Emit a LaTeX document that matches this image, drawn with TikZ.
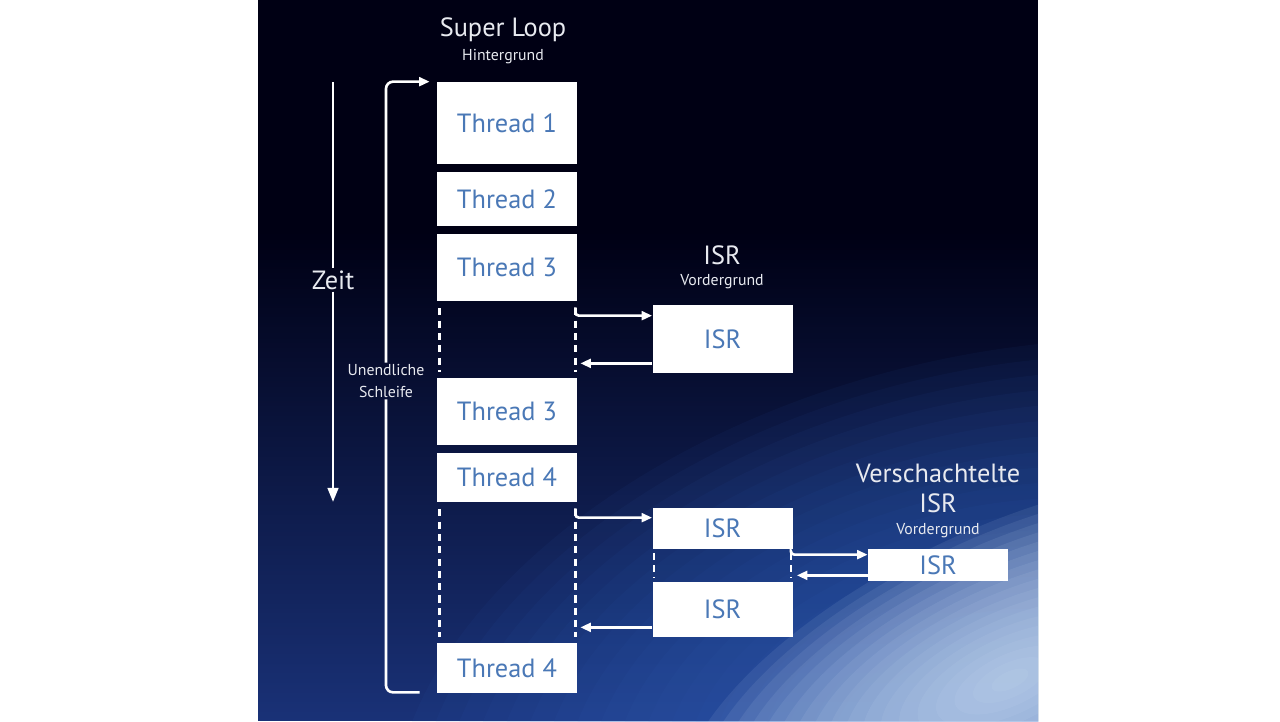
\documentclass[tikz,border=0pt]{standalone}
\usepackage{fontspec}
\setmainfont{PT Sans}
\usetikzlibrary{arrows.meta,fadings}
\definecolor{threadblue}{HTML}{4A78B6}
\definecolor{lighttext}{HTML}{E8EAF0}
\definecolor{navy}{HTML}{1A3278}
\definecolor{midblue}{HTML}{3466C2}
\definecolor{glow}{HTML}{D2E3F6}
\tikzfading[name=fadeup, top color=transparent!100, bottom color=transparent!0]
\tikzset{
  threadbox/.style={rectangle,fill=white,inner sep=0pt,minimum width=2.8cm,text=threadblue,font=\fontsize{15}{15}\selectfont},
  headline/.style={text=lighttext,font=\fontsize{15}{17}\selectfont,align=center,inner sep=1pt},
  subline/.style={text=lighttext,font=\fontsize{9}{12}\selectfont,align=center,inner sep=1pt},
  wire/.style={draw=white,line width=1.5pt},
  flow/.style={wire,-{Triangle[length=6pt,width=5pt]}},
  pause/.style={draw=white,line width=1.5pt,dash pattern=on 4pt off 3pt,shorten <=4pt,shorten >=3pt}
}
\begin{document}
\begin{tikzpicture}[x=0.02cm,y=-0.02cm]
\useasboundingbox[fill=white] (0,0) rectangle (1280,721);
% background
\fill[black!92!blue] (258,0) rectangle (1038,721);
\fill[navy,path fading=fadeup] (258,230) rectangle (1038,721);
\begin{scope}
\clip (258,0) rectangle (1038,721);
\foreach \r in {1,...,24}
  \fill[midblue,opacity=0.06,rotate around={15:(980,720)}] (980,720) ellipse ({\r*0.5cm} and {\r*0.3cm});
\foreach \r in {1,...,18}
  \fill[glow,opacity=0.09,rotate around={25:(1010,680)}] (1010,680) ellipse ({\r*0.4cm} and {\r*0.17cm});
\end{scope}
% super loop
\node[headline] (supertitle) at (503,30) {Super Loop};
\node[subline] (superbg) at (503,57) {Hintergrund};
\node[threadbox,minimum height=1.64cm] (t1) at (507,123) {Thread 1};
\node[threadbox,minimum height=1.08cm] (t2) at (507,199) {Thread 2};
\node[threadbox,minimum height=1.34cm] (t3a) at (507,267.5) {Thread 3};
\node[threadbox,minimum height=1.34cm] (t3b) at (507,411.5) {Thread 3};
\node[threadbox,minimum height=0.98cm] (t4a) at (507,477.5) {Thread 4};
\node[threadbox,minimum height=1.0cm] (t4b) at (507,668) {Thread 4};
% isr
\node[headline] (isrtitle) at (722,255) {ISR};
\node[subline] (isrfg) at (722,282) {Vordergrund};
\node[threadbox,minimum height=1.36cm] (isra) at (722.5,339) {ISR};
\node[threadbox,minimum height=0.82cm] (isrb) at (722.5,528.5) {ISR};
\node[threadbox,minimum height=1.1cm] (isrc) at (722.5,609.5) {ISR};
\node[headline] (nesttitle) at (938,488) {Verschachtelte\\ISR};
\node[subline] (nestfg) at (938,531) {Vordergrund};
\node[threadbox,minimum height=0.64cm] (isrn) at (938,565) {ISR};
% zeit
\node[headline] (zeit) at (333,280) {Zeit};
\coordinate (ztop) at (333,82);
\coordinate (zbot) at (333,502);
\draw[wire] (ztop) -- (zeit);
\draw[wire,-{Triangle[length=8pt,width=6pt]}] (zeit) -- (zbot);
% loop
\node[subline] (loop) at (386,381) {Unendliche\\Schleife};
\draw[wire,rounded corners=4pt] ([xshift=-0.34cm,yshift=0.02cm]t4b.south west) -| (loop.south);
\draw[flow,rounded corners=4pt] (loop.north) |- ([xshift=-0.14cm]t1.north west);
% interrupted threads
\draw[pause] ([xshift=0.06cm]t3a.south west) -- ([xshift=0.06cm]t3b.north west);
\draw[pause] ([xshift=-0.04cm]t3a.south east) -- ([xshift=-0.04cm]t3b.north east);
\draw[pause] ([xshift=0.06cm]t4a.south west) -- ([xshift=0.06cm]t4b.north west);
\draw[pause] ([xshift=-0.04cm]t4a.south east) -- ([xshift=-0.04cm]t4b.north east);
\draw[pause,shorten <=2pt,shorten >=2pt] ([xshift=0.04cm]isrb.south west) -- ([xshift=0.04cm]isrc.north west);
\draw[pause,shorten <=2pt,shorten >=2pt] ([xshift=-0.04cm]isrb.south east) -- ([xshift=-0.04cm]isrc.north east);
% calls and returns
\draw[flow,rounded corners=2pt] ([xshift=-0.04cm,yshift=-0.12cm]t3a.south east) |- ([yshift=-0.22cm]isra.north west);
\coordinate (ra) at ([yshift=0.2cm]isra.south west);
\draw[flow] (ra) -- ([xshift=0.06cm]ra -| t3a.east);
\draw[flow,rounded corners=2pt] ([xshift=-0.04cm,yshift=-0.12cm]t4a.south east) |- ([yshift=-0.2cm]isrb.north west);
\coordinate (rc) at ([yshift=0.2cm]isrc.south west);
\draw[flow] (rc) -- ([xshift=0.06cm]rc -| t4b.east);
\draw[flow,rounded corners=2pt] ([xshift=-0.04cm,yshift=-0.06cm]isrb.south east) |- ([yshift=-0.12cm]isrn.north west);
\coordinate (rn) at ([yshift=0.12cm]isrn.south west);
\draw[flow] (rn) -- ([xshift=0.08cm]rn -| isrb.east);
\end{tikzpicture}
\end{document}
